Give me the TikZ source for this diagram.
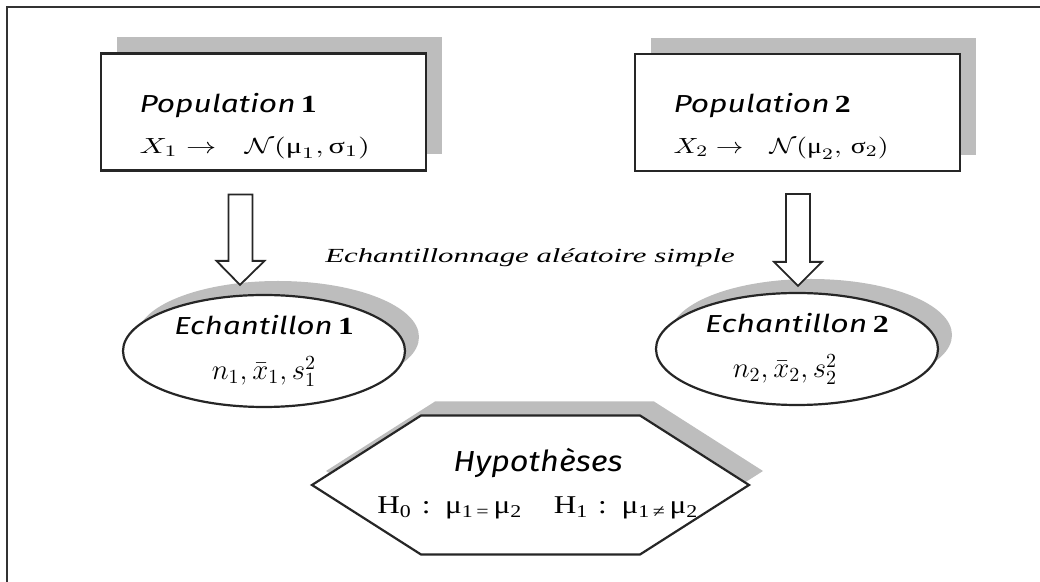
\documentclass[tikz,border=0pt]{standalone}
\usepackage{fontspec}
\setmainfont{Liberation Serif}
\newfontfamily\popfont{Fira Sans}
\usepackage{graphicx}
\usetikzlibrary{positioning,shapes.geometric,shadows,calc}

% horizontal stretch of one line of text
\newcommand\xs[2]{\scalebox{#1}[1]{#2}}

\begin{document}
\begin{tikzpicture}[
    x=0.5pt, y=-0.5pt,
    shadowed/.style = {
        fill=white,
        drop shadow={shadow xshift=#1, shadow yshift=#1, fill=black!26, opacity=1}
    },
    popbox/.style = {
        rectangle,
        draw=black!85,
        line width=1.1pt,
        shadowed=8pt,
        minimum width=162.5pt,
        minimum height=58.5pt,
        text width=124pt,
        text depth=9.5pt,
        inner xsep=19pt,
        align=left,
        font=\fontsize{11}{20.5}\selectfont
    },
    echbox/.style = {
        ellipse,
        draw=black!85,
        line width=1.1pt,
        shadowed=7pt,
        minimum width=141pt,
        minimum height=56pt,
        text width=96pt,
        inner sep=0pt,
        align=center,
        font=\fontsize{12}{22.5}\selectfont
    },
    hexbox/.style = {draw=black!85, line width=1.1pt, shadowed=7pt, line join=miter},
    hyptext/.style = {align=center, text width=170pt, font=\fontsize{12}{21}\selectfont},
    title/.style = {font=\fontsize{10}{12}\selectfont\itshape},
    blockarrow/.style = {
        draw=black!85, line width=0.9pt, fill=white, line join=miter,
        to path={let \p1=(\tikztostart), \p2=(\tikztotarget) in
            (\x1-6pt,\y1) -- (\x1-6pt,\y2+12pt) -- (\x1-12pt,\y2+12pt) -- (\x2,\y2)
            -- (\x1+12pt,\y2+12pt) -- (\x1+6pt,\y2+12pt) -- (\x1+6pt,\y1) -- cycle}
    }
]
\useasboundingbox (0,0) rectangle (1040,582);

% frame (only top and left sides show)
\draw[line width=1.2pt, black!80] (7,582) -- (7,7) -- (1040,7);

% Populations
\node[popbox] (pop1) at (263.5,112) {
    \xs{1.29}{\fontsize{12.3}{14}\selectfont\popfont\itshape Population\,\normalfont\bfseries 1}\\
    \xs{1.38}{$X_1 \rightarrow\ \ \mathcal{N}(\textrm{μ}_1,\textrm{σ}_1)$}
};
\node[popbox] (pop2) at (797.5,112.5) {
    \xs{1.29}{\fontsize{12.3}{14}\selectfont\popfont\itshape Population\,\normalfont\bfseries 2}\\
    \xs{1.26}{$X_2 \rightarrow\ \ \mathcal{N}(\textrm{μ}_2,\,\textrm{σ}_2)$}
};

% Samples
\node[echbox] (ech1) at (264,351) {
    \xs{1.27}{\fontsize{12.3}{14}\selectfont\popfont\itshape Echantillon\,\normalfont\bfseries 1}\\
    \rule{0pt}{19pt}\xs{1.0}{\fontsize{14}{16}\selectfont$n_1, \bar{x}_1, s_1^2$}
};
\node[echbox] (ech2) at (797,349) {
    \xs{1.3}{\fontsize{12.3}{14}\selectfont\popfont\itshape Echantillon\,\normalfont\bfseries 2}\\
    \rule{0pt}{19pt}\xs{1.0}{\fontsize{14}{16}\selectfont$n_2, \bar{x}_2, s_2^2$}\hspace*{12pt}
};

\node[title] (tirage) at (530,258) {\xs{1.54}{Echantillonnage aléatoire simple}};

% Sampling arrows
\draw[blockarrow] ($(pop1.south)+(-23,23)$) to ($(ech1.north)+(-24,-9)$);
\draw[blockarrow] ($(pop2.south)+(0.5,22)$) to ($(ech2.north)+(1,-6)$);

% Hypotheses
\coordinate (hexc) at (530.5,485);
\draw[hexbox] ($(hexc)+(-218.5,0)$) -- ++(109,-69.5) -- ++(219,0) -- ++(109,69.5)
    -- ++(-109,69.5) -- ++(-219,0) -- cycle;
\node[hyptext] (hyp) at (538,484) {
    \xs{1.12}{\fontsize{14.5}{16}\selectfont\popfont\itshape Hypothèses}\\
    \rule{0pt}{17pt}\xs{1.22}{\fontsize{12.8}{15}\selectfont H\textsubscript{0} : μ\textsubscript{1\,=\,}μ\textsubscript{2}\quad
    H\textsubscript{1} : μ\textsubscript{1\,≠\,}μ\textsubscript{2}}
};

\end{tikzpicture}
\end{document}
